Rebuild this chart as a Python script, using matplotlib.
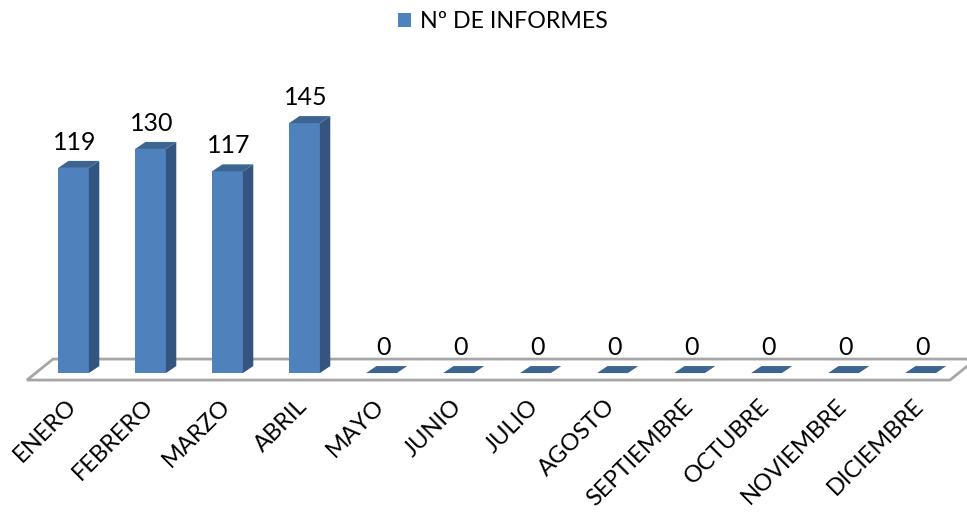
import matplotlib.pyplot as plt
from matplotlib.patches import Polygon

# Datos
meses = ['ENERO', 'FEBRERO', 'MARZO', 'ABRIL', 'MAYO', 'JUNIO', 'JULIO',
         'AGOSTO', 'SEPTIEMBRE', 'OCTUBRE', 'NOVIEMBRE', 'DICIEMBRE']
informes = [119, 130, 117, 145, 0, 0, 0, 0, 0, 0, 0, 0]
serie = 'Nº DE INFORMES'

plt.rcParams['font.family'] = ['Lato', 'DejaVu Sans']

c_front = '#4f81bd'
c_side = '#34557f'
c_top = '#3d6592'

fig = plt.figure(figsize=(9.67, 5.12), dpi=100)
ax = fig.add_axes([0, 0, 1, 1])
ax.set_xlim(-0.9545, 11.604)
ax.set_ylim(-80.6, 216.4)
ax.axis('off')

n = len(meses)
x = list(range(n))
w = 0.40      # ancho de la barra
dx, dy = 0.135, 4.06   # profundidad 3D

# Suelo
suelo = Polygon([(-0.604, -4.06), (n - 1 + 0.383, -4.06),
                 (n - 1 + 0.721, 8.12), (-0.266, 8.12)],
                closed=True, facecolor='white', edgecolor='#a6a6a6',
                linewidth=2, zorder=1)
ax.add_patch(suelo)

# Barras (cara frontal)
barras = ax.bar(x, informes, width=w, color=c_front, zorder=3, label=serie)

# Caras laterales y superiores
for xi, h in zip(x, informes):
    if h > 0:
        lado = [(xi + w / 2, 0), (xi + w / 2 + dx, dy),
                (xi + w / 2 + dx, h + dy), (xi + w / 2, h)]
        ax.add_patch(Polygon(lado, closed=True, facecolor=c_side,
                             edgecolor='none', zorder=3))
    tapa = [(xi - w / 2, h), (xi + w / 2, h),
            (xi + w / 2 + dx, h + dy), (xi - w / 2 + dx, h + dy)]
    ax.add_patch(Polygon(tapa, closed=True, facecolor=c_top,
                         edgecolor='none', zorder=3))

# Valores sobre las barras
for xi, h in zip(x, informes):
    ax.text(xi + 0.02, h + 10.4, str(h), ha='center', va='baseline',
            fontsize=18, color='#000000', zorder=4)

# Etiquetas de los meses
for xi, m in zip(x, meses):
    ax.text(xi - 0.1, -13.0, m, rotation=45, ha='right', va='top',
            rotation_mode='anchor', fontsize=17, color='#000000')

# Leyenda
fig.legend(handles=[barras], loc='center', bbox_to_anchor=(503 / 967, 1 - 22 / 512),
           frameon=False, fontsize=16.7, handlelength=0.55, handleheight=0.55,
           handletextpad=0.4)

fig.savefig('out.png', dpi=100)
